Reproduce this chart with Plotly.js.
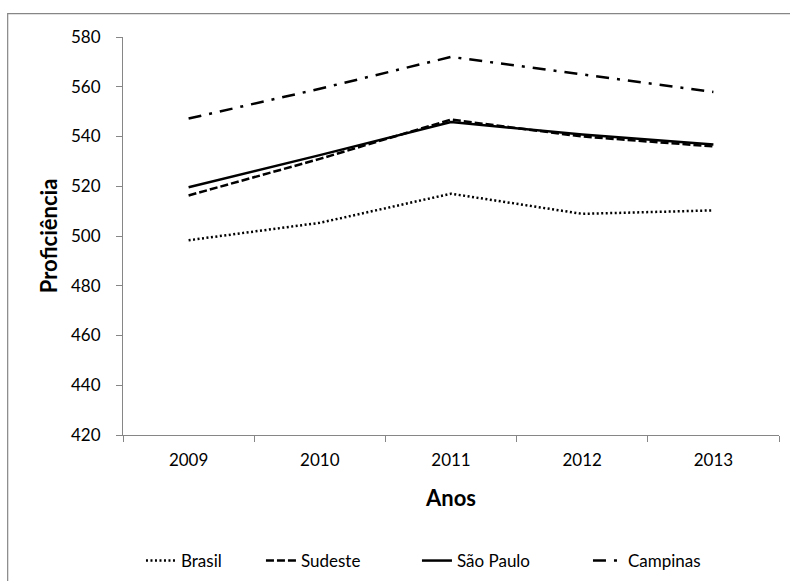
<!DOCTYPE html>
<html>
<head>
<meta charset="utf-8">
<script src="https://cdn.plot.ly/plotly-3.0.1.min.js"></script>
<style>
html,body{margin:0;padding:0;background:#fff;}
#chart{width:790px;height:581px;}
</style>
</head>
<body>
<div id="chart"></div>
<script>
const years = ["2009", "2010", "2011", "2012", "2013"];
const brasil = [498.3, 505.3, 517.0, 508.9, 510.3];
const sudeste = [516.3, 531.0, 546.8, 540.0, 536.0];
const saoPaulo = [519.6, 532.5, 545.8, 540.8, 536.8];
const campinas = [547.2, 559.2, 572.0, 565.0, 557.9];
const yTicks = [420, 440, 460, 480, 500, 520, 540, 560, 580];

const FONT = "Lato, 'Open Sans', sans-serif";

const series = [
  {name: "Brasil", y: brasil, dash: "2px,2.5px", legend: "legend", lx: 0.0274},
  {name: "Sudeste", y: sudeste, dash: "8px,3px", legend: "legend2", lx: 0.2103},
  {name: "São Paulo", y: saoPaulo, dash: "solid", legend: "legend3", lx: 0.4481},
  {name: "Campinas", y: campinas, dash: "13px,8px,3px,8px", legend: "legend4", lx: 0.7088}
];

const traces = series.map(s => ({
  type: "scatter",
  mode: "lines",
  name: s.name,
  x: years,
  y: s.y,
  legend: s.legend,
  line: {color: "#000000", width: 2.5, dash: s.dash},
  hoverinfo: "skip"
}));

const layout = {
  width: 790,
  height: 581,
  margin: {l: 123, r: 11, t: 37, b: 146, autoexpand: false},
  paper_bgcolor: "#ffffff",
  plot_bgcolor: "#ffffff",
  font: {family: FONT, size: 17, color: "#000000"},
  showlegend: true,
  xaxis: {
    type: "category",
    range: [-0.5, 4.5],
    tickson: "boundaries",
    ticks: "outside",
    ticklen: 6,
    tickcolor: "#868686",
    showline: true,
    linecolor: "#868686",
    linewidth: 1,
    showgrid: false,
    zeroline: false,
    automargin: false,
    ticklabelstandoff: 10,
    tickfont: {family: FONT, size: 17, color: "#000000"},
    title: {text: "Anos", font: {family: FONT, size: 22, color: "#000000", weight: "bold"}, standoff: 21}
  },
  yaxis: {
    range: [420, 580],
    tickvals: yTicks,
    ticktext: yTicks.map(String),
    ticks: "outside",
    ticklen: 6,
    tickcolor: "#868686",
    showline: true,
    linecolor: "#868686",
    linewidth: 1,
    showgrid: false,
    zeroline: false,
    automargin: false,
    ticklabelstandoff: 12,
    tickfont: {family: FONT, size: 17, color: "#000000"},
    title: {text: "Proficiência", font: {family: FONT, size: 22, color: "#000000", weight: "bold"}, standoff: 7}
  },
  shapes: [
    {type: "rect", xref: "paper", yref: "paper", x0: -0.1758, x1: 1.2, y0: -0.9, y1: 1.0585,
     line: {color: "#868686", width: 1.2}, fillcolor: "rgba(0,0,0,0)", layer: "below"}
  ]
};

series.forEach(s => {
  layout[s.legend] = {
    orientation: "h",
    x: s.lx, xanchor: "left",
    y: -0.3166, yanchor: "middle",
    font: {family: FONT, size: 17, color: "#000000"},
    bgcolor: "rgba(0,0,0,0)",
    borderwidth: 0
  };
});

Plotly.newPlot("chart", traces, layout, {staticPlot: true, displayModeBar: false});
</script>
</body>
</html>
